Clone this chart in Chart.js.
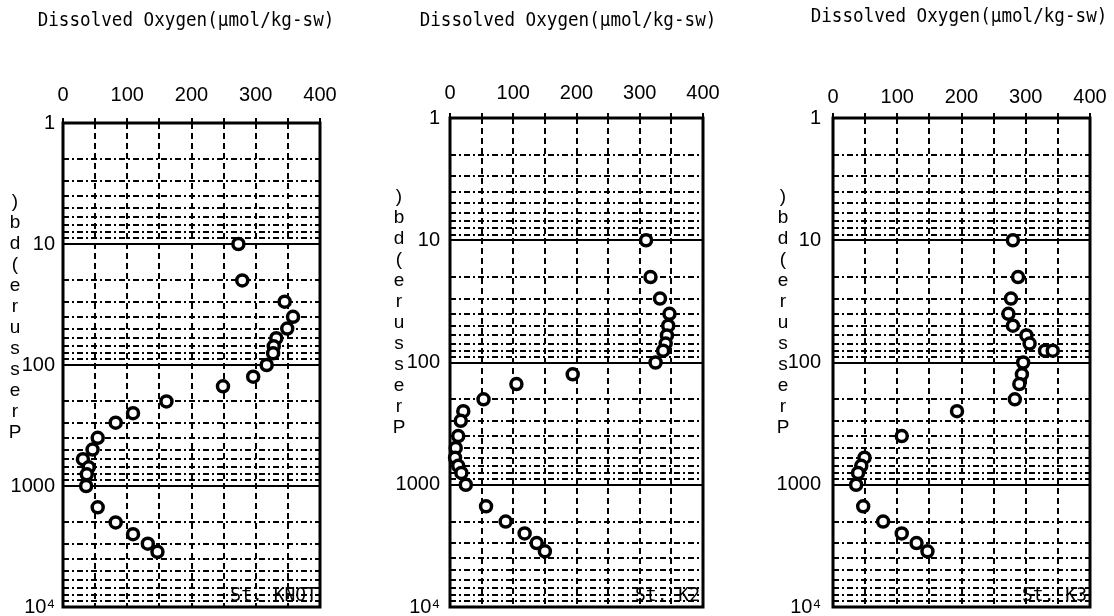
<!DOCTYPE html>
<html lang="en">
<head>
<meta charset="UTF-8">
<title>Dissolved Oxygen profiles</title>
<script src="https://cdn.jsdelivr.net/npm/chart.js@4.4.1/dist/chart.umd.min.js"></script>
<style>
  html, body { margin: 0; padding: 0; background: #fff; }
  body { width: 1114px; height: 616px; position: relative; overflow: hidden; }
  canvas { position: absolute; top: 0; }
</style>
</head>
<body>
<canvas id="knot" width="340" height="616" style="left:0"></canvas>
<canvas id="k2" width="350" height="616" style="left:370px"></canvas>
<canvas id="k3" width="364" height="616" style="left:750px"></canvas>

<script>
// oxygen (umol/kg) against pressure (db) for each station
const knotOxygen = [273, 279, 345, 358, 349, 332, 328, 327, 317, 296, 249, 161, 109, 82, 54, 46, 31, 40, 37, 36, 54, 82, 109, 132, 147];
const knotPressure = [10, 20, 30, 40, 50, 60, 70, 80, 100, 125, 150, 200, 250, 300, 400, 500, 600, 700, 800, 1000, 1500, 2000, 2500, 3000, 3500];

const k2Oxygen = [310, 317, 332, 347, 345, 343, 341, 337, 325, 194, 105, 53, 21, 17, 13, 9, 8, 13, 18, 25, 57, 88, 118, 137, 150];
const k2Pressure = [10, 20, 30, 40, 50, 60, 70, 80, 100, 125, 150, 200, 250, 300, 400, 500, 600, 700, 800, 1000, 1500, 2000, 2500, 3000, 3500];

const k3Oxygen = [280, 288, 277, 273, 280, 301, 306, 330, 342, 296, 294, 290, 283, 193, 107, 49, 44, 39, 36, 47, 78, 107, 130, 147];
const k3Pressure = [10, 20, 30, 40, 50, 60, 70, 80, 80, 100, 125, 150, 200, 250, 400, 600, 700, 800, 1000, 1500, 2000, 2500, 3000, 3500];

const oxygenTicks = [0, 100, 200, 300, 400];
const pressureLabels = { 1: '1', 10: '10', 100: '100', 1000: '1000', 10000: '10\u2074' };

const titleText = 'Dissolved Oxygen(\u03bcmol/kg-sw)';
const pressureTitle = 'Pressure(db)';

// every 1..9 step of each decade gets a grid line
const pressureGrid = [];
for (let d = 1; d <= 1000; d *= 10) {
  for (let k = 1; k < 10; k++) pressureGrid.push(k * d);
}
pressureGrid.push(10000);

const isDecade = v => Math.abs(Math.log10(v) - Math.round(Math.log10(v))) < 1e-9;

const frame = {
  id: 'frame',
  beforeDatasetsDraw(chart) {
    const { ctx, chartArea: a } = chart;
    ctx.save();
    ctx.strokeStyle = '#000';
    ctx.lineWidth = 3;
    ctx.strokeRect(a.left, a.top, a.right - a.left, a.bottom - a.top);
    ctx.restore();
  }
};

const panelText = {
  id: 'panelText',
  afterDraw(chart, args, o) {
    const { ctx, chartArea: a } = chart;
    ctx.save();
    ctx.fillStyle = '#000';
    ctx.textAlign = 'center';
    ctx.textBaseline = 'middle';

    // narrow, tall monospace heading
    ctx.save();
    ctx.translate(o.titleX, o.titleY);
    ctx.scale(0.88, 1);
    ctx.font = '20px "DejaVu Sans Mono", monospace';
    ctx.fillText(o.title, 0, 0);
    ctx.restore();

    // axis name written one upright character per row, last letter on top
    ctx.font = '19px "Liberation Sans", Arial, sans-serif';
    const chars = [...o.yTitle].reverse();
    chars.forEach((ch, i) => ctx.fillText(ch, o.yTitleX, o.yTitleY + i * 21));

    ctx.save();
    ctx.translate(a.right - 3, a.bottom - 1);
    ctx.scale(0.9, 1);
    ctx.font = '20px "DejaVu Sans Mono", monospace';
    ctx.textAlign = 'right';
    ctx.textBaseline = 'bottom';
    ctx.fillText(o.station, 0, 0);
    ctx.restore();
    ctx.restore();
  }
};

function makePanel(id, oxygen, pressure, p) {
  const points = oxygen.map((v, i) => ({ x: v, y: pressure[i] }));
  return new Chart(document.getElementById(id), {
    type: 'scatter',
    data: {
      datasets: [{
        data: points,
        showLine: false,
        clip: false,
        pointStyle: 'circle',
        pointRadius: 5.5,
        pointBorderWidth: 3.5,
        pointBorderColor: '#000',
        pointBackgroundColor: '#fff'
      }]
    },
    plugins: [frame, panelText],
    options: {
      responsive: false,
      animation: false,
      events: [],
      layout: { padding: { left: 0, right: p.padRight, top: 0, bottom: p.padBottom } },
      plugins: {
        legend: { display: false },
        tooltip: { enabled: false },
        panelText: {
          title: titleText,
          titleX: p.titleX,
          titleY: p.titleY,
          yTitle: pressureTitle,
          yTitleX: p.yTitleX,
          yTitleY: p.yTitleY,
          station: p.station
        }
      },
      scales: {
        x: {
          type: 'linear',
          position: 'top',
          min: 0,
          max: 400,
          afterFit: s => { s.height = p.top; s.paddingLeft = 0; s.paddingRight = 0; },
          ticks: {
            stepSize: 50,
            autoSkip: false,
            maxRotation: 0,
            padding: p.xPad,
            color: '#000',
            font: { family: '"Liberation Sans", Arial, sans-serif', size: 20 },
            callback: v => oxygenTicks.includes(v) ? String(v) : ''
          },
          grid: {
            color: '#000',
            lineWidth: 2,
            tickLength: 5,
            tickColor: '#000',
            tickWidth: 2,
            tickBorderDash: []
          },
          border: { display: false, dash: [6, 4] }
        },
        y: {
          type: 'logarithmic',
          reverse: true,
          min: 1,
          max: 10000,
          afterFit: s => { s.width = p.left; s.paddingTop = 0; s.paddingBottom = 0; },
          afterBuildTicks: s => { s.ticks = pressureGrid.map(v => ({ value: v, major: isDecade(v) })); },
          ticks: {
            autoSkip: false,
            padding: p.yPad,
            color: '#000',
            font: { family: '"Liberation Sans", Arial, sans-serif', size: 20 },
            callback: v => pressureLabels[v] || ''
          },
          grid: {
            color: '#000',
            lineWidth: 2,
            drawTicks: false
          },
          border: {
            display: false,
            dash: c => (c.tick && isDecade(c.tick.value)) ? [] : [6, 3, 2, 3]
          }
        }
      }
    }
  });
}

makePanel('knot', knotOxygen, knotPressure, {
  left: 63, top: 123, padRight: 20, padBottom: 9, xPad: 11, yPad: 8,
  titleX: 186, titleY: 21, yTitleX: 15, yTitleY: 202, station: 'St. KNOT'
});
makePanel('k2', k2Oxygen, k2Pressure, {
  left: 80, top: 118, padRight: 17, padBottom: 9, xPad: 8, yPad: 10,
  titleX: 198, titleY: 21, yTitleX: 29, yTitleY: 197, station: 'St. K2'
});
makePanel('k3', k3Oxygen, k3Pressure, {
  left: 83, top: 118, padRight: 24, padBottom: 9, xPad: 4, yPad: 12,
  titleX: 209, titleY: 17, yTitleX: 33, yTitleY: 197, station: 'St. K3'
});
</script>
</body>
</html>
